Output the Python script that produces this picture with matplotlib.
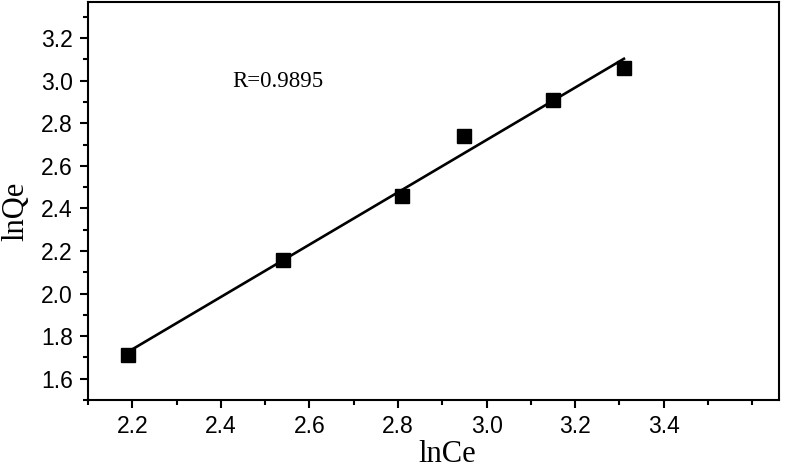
import matplotlib

matplotlib.use("Agg")
import matplotlib.pyplot as plt
import numpy as np
from matplotlib.ticker import FormatStrFormatter, MultipleLocator

# data
ln_ce = [2.19, 2.54, 2.81, 2.95, 3.15, 3.31]
ln_qe = [1.71, 2.16, 2.46, 2.74, 2.91, 3.06]
r_label = "R=0.9895"

x = np.array(ln_ce)
y = np.array(ln_qe)
slope, intercept = np.polyfit(x, y, 1)
fit_x = np.array([x.min(), x.max()])
fit_y = slope * fit_x + intercept

fig = plt.figure(figsize=(7.86, 4.69), dpi=100)
ax = fig.add_axes([0.112, 0.147, 0.879, 0.849])

ax.plot(fit_x, fit_y, color="black", linewidth=1.9, zorder=2)
ax.plot(x, y, linestyle="none", marker="s", markersize=10, color="black", zorder=3)

ax.set_xlim(2.1, 3.66)
ax.set_ylim(1.5, 3.37)
ax.set_xticks([2.2, 2.4, 2.6, 2.8, 3.0, 3.2, 3.4])
ax.set_yticks([1.6, 1.8, 2.0, 2.2, 2.4, 2.6, 2.8, 3.0, 3.2])
ax.xaxis.set_minor_locator(MultipleLocator(0.1))
ax.yaxis.set_minor_locator(MultipleLocator(0.1))
ax.xaxis.set_major_formatter(FormatStrFormatter("%.1f"))
ax.yaxis.set_major_formatter(FormatStrFormatter("%.1f"))

for spine in ax.spines.values():
    spine.set_linewidth(1.5)

ax.tick_params(which="major", direction="out", length=6, width=1.5, pad=5,
               labelsize=16.5, top=False, right=False)
ax.tick_params(which="minor", direction="out", length=3.5, width=1.5,
               top=False, right=False)
for lbl in ax.get_xticklabels() + ax.get_yticklabels():
    lbl.set_fontfamily("Liberation Sans")

ax.set_xlabel("lnCe", fontsize=22, family="Liberation Serif")
ax.set_ylabel("lnQe", fontsize=22, family="Liberation Serif")
ax.xaxis.set_label_coords(0.52, -0.10)
ax.yaxis.set_label_coords(-0.084, 0.475)

ax.text(2.426, 2.994, r_label, fontsize=16.5, family="Liberation Serif",
        ha="left", va="center")

fig.savefig("out.png", dpi=100)
